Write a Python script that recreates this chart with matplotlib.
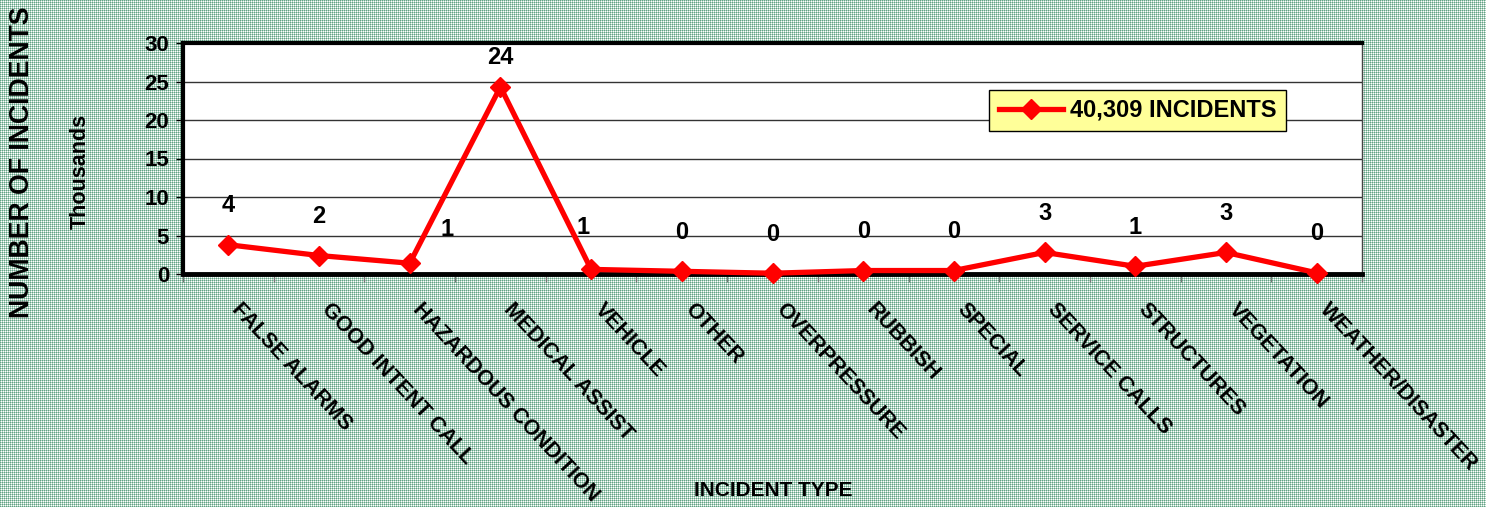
import numpy as np
import matplotlib
matplotlib.use("Agg")
import matplotlib.pyplot as plt
from matplotlib.lines import Line2D
from matplotlib.transforms import ScaledTranslation

plt.rcParams['font.family'] = ['Liberation Sans', 'DejaVu Sans']
plt.rcParams['font.weight'] = 'bold'

categories = ["FALSE ALARMS", "GOOD INTENT CALL", "HAZARDOUS CONDITION",
              "MEDICAL ASSIST", "VEHICLE", "OTHER", "OVERPRESSURE", "RUBBISH",
              "SPECIAL", "SERVICE CALLS", "STRUCTURES", "VEGETATION",
              "WEATHER/DISASTER"]
incidents_thousands = [3.8, 2.4, 1.4, 24.3, 0.6, 0.35, 0.1, 0.45, 0.45,
                       2.8, 1.0, 2.8, 0.15]
total_incidents = 40309
y_ticks = [0, 5, 10, 15, 20, 25, 30]

W, H = 1486, 507
fig = plt.figure(figsize=(W / 100, H / 100), dpi=100)

# dotted green background pattern
yy, xx = np.mgrid[0:H, 0:W]
bg = np.ones((H, W, 3))
dark = np.array([0x62, 0xa3, 0x85]) / 255
light = np.array([0xb0, 0xd2, 0xc1]) / 255
mask_d = (xx % 2 == 0) & (yy % 2 == 0)
mask_l = ((xx % 2) ^ (yy % 2)).astype(bool)
bg[mask_d] = dark
bg[mask_l] = light
fig.figimage(bg, xo=0, yo=0, zorder=0)

ax = fig.add_axes([183 / W, 1 - 274 / H, (1362 - 183) / W, (274 - 43) / H])
ax.set_zorder(3)
ax.set_facecolor('white')

x = np.arange(len(categories))
ax.plot(x, incidents_thousands, color='#ff0000', lw=3.8, marker='D',
        markersize=10, markeredgecolor='#ff0000', markerfacecolor='#ff0000',
        zorder=5, clip_on=False)

# data labels
offsets = {2: (27, 24), 3: (0, 21), 4: (-6, 30)}
for i, v in enumerate(incidents_thousands):
    dx, dy = offsets.get(i, (0, 28))
    ax.annotate(f"{round(v):d}", (i, v), xytext=(dx, dy),
                textcoords='offset points', ha='center', va='center',
                fontsize=17, fontweight='bold', color='black', zorder=6)

ax.set_xlim(-0.5, len(categories) - 0.5)
ax.set_ylim(0, 30)
ax.set_yticks(y_ticks)
ax.set_yticklabels([str(t) for t in y_ticks])
ax.tick_params(axis='y', length=5, width=1, pad=5, labelsize=16,
               colors='black', direction='out')

for t in y_ticks[1:-1]:
    ax.axhline(t, color='#333333', lw=1, zorder=1)

ax.set_xticks(x)
ax.set_xticklabels(categories, rotation=-47, ha='left', va='top',
                   rotation_mode='anchor', fontsize=15.5, fontweight='bold')
ax.tick_params(axis='x', which='major', length=0, pad=18)
ax.set_xticks(np.arange(-0.5, len(categories), 1), minor=True)
ax.tick_params(axis='x', which='minor', length=6, width=1, color='#777777',
               direction='out')

shift = ScaledTranslation(14 / 100, 0, fig.dpi_scale_trans)
for lbl in ax.get_xticklabels():
    lbl.set_transform(lbl.get_transform() + shift)

ax.spines['top'].set_linewidth(3)
ax.spines['left'].set_linewidth(3)
ax.spines['bottom'].set_linewidth(3.5)
ax.spines['right'].set_linewidth(1)
ax.spines['right'].set_color('#444444')
for s in ['top', 'left', 'bottom']:
    ax.spines[s].set_color('black')

handle = Line2D([], [], color='#ff0000', lw=3.8, marker='D', markersize=10)
leg = ax.legend([handle], [f"{total_incidents:,} INCIDENTS"],
                loc='center', bbox_to_anchor=((987 + 1288) / 2 / W, 1 - 110.5 / H),
                bbox_transform=fig.transFigure, fancybox=False, framealpha=1,
                facecolor='#ffff99', edgecolor='black', handlelength=2.7,
                borderpad=0.4, handletextpad=0.3, borderaxespad=0,
                prop={'size': 17, 'weight': 'bold'})
leg.get_frame().set_linewidth(1)
leg.set_zorder(10)

fig.text(22 / W, 1 - 162 / H, "NUMBER OF INCIDENTS", rotation=90,
         ha='center', va='center', fontsize=19.2, fontweight='bold')
fig.text(80 / W, 1 - 171 / H, "Thousands", rotation=90,
         ha='center', va='center', fontsize=15.5, fontweight='bold')
fig.text(773 / W, 1 - 490 / H, "INCIDENT TYPE",
         ha='center', va='center', fontsize=15, fontweight='bold')

fig.savefig("out.png", dpi=100)
